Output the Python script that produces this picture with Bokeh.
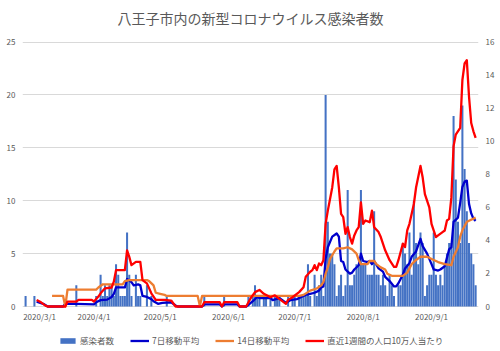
import pandas as pd
from datetime import datetime, timedelta
from bokeh.plotting import figure
from bokeh.models import Range1d, LinearAxis, FixedTicker, Legend, LegendItem, ColumnDataSource, Label
from bokeh.core.properties import value
from bokeh.embed import file_html
from bokeh.resources import INLINE

title_text = "八王子市内の新型コロナウイルス感染者数"
series_names = ["感染者数", "7日移動平均", "14日移動平均", "直近1週間の人口10万人当たり"]

first_day = "2020/3/1"
# daily new cases, 2020/3/1 .. 2020/9/21
cases_mar = [1,0,0,0,1, 0,0,0,0,0, 0,0,0,0,0, 0,0,0,0,0, 0,0,0,2,0, 0,0,0,0,0, 0]
cases_apr = [0,1,0,3,1, 2,1,2,2,1, 4,3,1,1,1, 7,3,1,0,3, 1,1,0,0,2, 0,1,0,0,0]
cases_may = [0,0,0,1,0, 0,0,0,0,0, 0,0,0,0,0, 0,0,0,0,0, 1,0,0,0,0, 0,0,0,0,1, 0]
cases_jun = [0,0,0,0,0, 0,0,0,0,1, 0,1,2,1,1, 0,1,1,0,1, 0,1,1,1,0, 0,0,1,0,1]
cases_jul = [1,0,1,1,1, 1,4,1,0,3, 1,2,3,1,20, 8,5,5,4,1, 2,3,1,2,11, 2,2,3,4,4, 11]
cases_aug = [4,4,3,3,3, 9,3,3,2,3, 2,1,3,2,1, 0,2,2,6,5, 4,7,3,10,6, 4,7,6,1,2, 3]
cases_sep = [3,7,3,2,3, 2,4,5,6,6, 18,12,8,6,19, 13,9,6,5,4, 2]

# 7-day moving average (left axis), read at vertices
avg7_days = ["3/6","3/9","3/11","3/18","3/19","3/24","4/1","4/2","4/4","4/7","4/9","4/10","4/11","4/15",
             "4/16","4/18","4/19","4/21","4/22","4/23","4/25","4/27","4/28","4/30","5/2","5/6","5/8","5/9",
             "5/20","5/21","5/28","5/29","5/30","6/5","6/6","6/9","6/10","6/12","6/14","6/15","6/20","6/21",
             "6/24","6/26","6/27","6/29","7/2","7/4","7/6","7/8","7/10","7/12","7/13","7/14","7/15","7/16",
             "7/18","7/20","7/21","7/22","7/23","7/24","7/26","7/27","7/28","7/30","7/31","8/1","8/3","8/4",
             "8/5","8/6","8/8","8/10","8/11","8/13","8/15","8/16","8/17","8/19","8/20","8/22","8/23","8/25",
             "8/26","8/27","8/28","8/30","8/31","9/1","9/2","9/4","9/5","9/7","9/8","9/9","9/10","9/11",
             "9/13","9/14","9/15","9/16","9/17","9/18","9/19","9/20","9/21"]
avg7_vals = [0.45,0.25,0,0,0.25,0.25,0.2,0.4,0.6,0.65,0.9,1.2,1.8,1.8,
             2.6,2.3,2.0,2.1,2.0,1.0,0.9,0.7,0.5,0.25,0.35,0.4,0.1,0,
             0,0.2,0.2,0,0.2,0.2,0,0,0.15,0.5,0.9,0.8,0.8,0.6,
             0.8,0.5,0.35,0.6,0.7,0.9,1.1,1.2,1.3,1.5,1.8,1.9,4.5,5.6,
             6.6,6.9,6.6,4.3,4.2,3.5,3.1,3.2,3.5,3.9,5.0,4.3,4.2,4.3,
             4.0,4.3,3.6,3.3,2.8,2.4,1.9,1.9,2.2,3.0,3.6,4.1,4.7,5.2,
             5.8,6.4,5.7,5.0,4.5,4.0,3.5,3.4,3.5,3.8,4.6,5.4,5.6,8.0,
             8.4,9.8,11.3,11.8,11.9,9.7,8.8,8.3,8.1]

# 14-day moving average (left axis)
avg14_days = ["3/13","3/18","3/19","3/20","4/2","4/3","4/5","4/14","4/15","4/17","4/25","4/26","4/28","4/29",
              "5/1","5/3","5/4","5/18","5/19","5/20","7/3","7/5","7/8","7/11","7/13","7/14","7/15","7/16",
              "7/17","7/19","7/20","7/23","7/25","7/27","7/29","7/30","7/31","8/3","8/4","8/6","8/7","8/9",
              "8/11","8/12","8/14","8/19","8/21","8/23","8/25","8/27","8/30","9/2","9/4","9/7","9/10","9/11",
              "9/13","9/14","9/15","9/17","9/18","9/21"]
avg14_vals = [1.0,1.0,0,1.6,1.6,1.8,2.1,2.1,2.4,2.5,2.5,2.4,2.0,1.3,
              1.2,1.1,1.0,1.0,0.05,1.0,1.0,1.1,1.5,1.7,2.0,2.3,3.1,3.7,
              4.5,5.2,5.5,5.5,5.6,5.4,5.0,4.4,4.0,4.0,4.3,4.3,4.0,3.7,
              3.5,3.1,2.9,2.9,3.2,4.0,4.4,4.7,4.7,4.4,4.2,4.0,3.9,4.7,
              5.6,6.6,7.2,8.0,8.1,8.4]

# weekly cases per 100k population (right axis)
per100k_days = ["3/6","3/8","3/10","3/11","3/19","3/20","3/24","3/25","3/31","4/1","4/3","4/4","4/6","4/9",
                "4/10","4/11","4/15","4/16","4/17","4/18","4/20","4/22","4/23","4/25","4/27","4/29","5/3","5/6",
                "5/8","5/20","5/21","5/28","5/29","5/30","6/5","6/6","6/9","6/11","6/13","6/15","6/17","6/20",
                "6/22","6/24","6/27","6/28","6/30","7/3","7/5","7/6","7/8","7/9","7/10","7/11","7/12","7/13",
                "7/14","7/15","7/16","7/18","7/19","7/20","7/21","7/22","7/23","7/24","7/25","7/26","7/27","7/28",
                "7/29","7/30","7/31","8/1","8/2","8/4","8/5","8/6","8/8","8/9","8/11","8/13","8/15","8/16",
                "8/17","8/19","8/20","8/21","8/22","8/24","8/25","8/27","8/28","8/29","8/31","9/1","9/3","9/4",
                "9/6","9/7","9/8","9/9","9/10","9/11","9/12","9/14","9/15","9/16","9/17","9/18","9/19","9/20","9/21"]
per100k_vals = [0.4,0.25,0.05,0,0,0.3,0.3,0.4,0.4,0.3,0.6,0.8,1.1,1.15,
                1.5,2.2,2.2,3.4,3.0,2.5,2.7,2.7,1.6,1.4,0.8,0.4,0.4,0.36,
                0,0,0.26,0.26,0,0.26,0.26,0,0,0.5,0.87,1.0,0.77,0.56,
                0.67,0.46,0.16,0.4,0.56,0.87,1.17,1.8,2.1,2.2,2.5,2.2,2.6,2.5,
                2.8,5.0,5.8,7.2,8.3,8.5,7.2,5.6,5.4,4.4,4.8,4.2,3.8,4.3,
                4.6,4.8,6.3,5.0,5.2,5.1,5.8,4.8,4.5,4.2,3.4,2.8,2.4,2.4,
                2.8,3.8,3.6,4.6,5.0,6.2,7.2,8.5,7.8,6.8,6.0,5.0,4.2,4.3,
                4.5,4.6,5.2,5.3,6.6,9.7,10.4,10.8,13.7,14.7,14.9,12.7,11.1,10.6,10.2]

x_tick_labels = ["2020/3/1", "2020/4/1", "2020/5/1", "2020/6/1", "2020/7/1", "2020/8/1", "2020/9/1"]
left_ticks = [0, 5, 10, 15, 20, 25]
right_ticks = [0, 2, 4, 6, 8, 10, 12, 14, 16]

# ---------------------------------------------------------------
def parse(s):
    return datetime.strptime(s, "%Y/%m/%d")

def md(lst):
    return [parse("2020/" + s) for s in lst]

cases = cases_mar + cases_apr + cases_may + cases_jun + cases_jul + cases_aug + cases_sep
d0 = parse(first_day)
dates = [d0 + timedelta(days=i) for i in range(len(cases))]

FONT = "Noto Sans CJK JP"
GRAY = "#595959"

# layout: the frame spans the whole canvas height so title and legend can sit inside it
CANVAS_H = 351
TOP_PX, ZERO_PX = 41.5, 306.0          # pixel rows of the 25 gridline and of the zero line
px_per_unit = (ZERO_PX - TOP_PX) / left_ticks[-1]
y_lo = -(CANVAS_H - ZERO_PX) / px_per_unit
y_hi = left_ticks[-1] + TOP_PX / px_per_unit
r_scale = right_ticks[-1] / left_ticks[-1]
tick_label_y = -10.0 / px_per_unit     # 10 px below the zero line

x_start = d0 - timedelta(days=1.4)
x_end = d0 + timedelta(days=205.3)

p = figure(frame_width=456, frame_height=CANVAS_H, x_axis_type="datetime", output_backend="svg",
           toolbar_location=None, x_range=Range1d(x_start, x_end), y_range=Range1d(y_lo, y_hi),
           min_border_left=22, min_border_right=22, min_border_top=0, min_border_bottom=0)
p.title.visible = False
p.extra_y_ranges = {"r": Range1d(y_lo * r_scale, y_hi * r_scale)}
p.outline_line_color = None
p.background_fill_color = "white"
p.border_fill_color = "white"

src = ColumnDataSource(dict(x=dates, top=cases))
r_bar = p.vbar(x="x", top="top", width=0.92 * 86400000, source=src, fill_color="#4472C4", line_color=None)
r7 = p.line(md(avg7_days), avg7_vals, line_color="#0000CC", line_width=2.3, line_join="round")
r14 = p.line(md(avg14_days), avg14_vals, line_color="#ED7D31", line_width=2.3, line_join="round")
rr = p.line(md(per100k_days), per100k_vals, line_color="#FF0000", line_width=2.3, line_join="round", y_range_name="r")

# date tick labels, placed on the date scale just under the zero line
tick_dates = [parse(s) for s in x_tick_labels]
first_shift = [14] + [0] * (len(x_tick_labels) - 1)   # keep the first label inside the frame
tick_src = ColumnDataSource(dict(x=tick_dates, y=[tick_label_y] * len(tick_dates),
                                 text=x_tick_labels, dx=first_shift))
p.text(x="x", y="y", text="text", x_offset="dx", source=tick_src, text_align="center",
       text_baseline="middle", text_font=value(FONT), text_font_size=value("8px"), text_color=GRAY)

# title (screen units measured from the frame's bottom-left)
title_lbl = Label(x=228, y=CANVAS_H - 17, x_units="screen", y_units="screen", text=title_text,
                  text_align="center", text_baseline="middle", text_font=FONT,
                  text_font_size="14px", text_color=GRAY)
p.add_layout(title_lbl)

def style_axis(ax, standoff):
    ax.major_tick_line_color = None
    ax.minor_tick_line_color = None
    ax.major_tick_out = 0
    ax.major_tick_in = 0
    ax.minor_tick_out = 0
    ax.minor_tick_in = 0
    ax.major_label_standoff = standoff
    ax.major_label_text_font = FONT
    ax.major_label_text_font_size = "8px"
    ax.major_label_text_color = GRAY

# axes
p.xaxis.visible = False

ya = p.yaxis[0]
ya.ticker = FixedTicker(ticks=left_ticks)
ya.axis_line_color = None
style_axis(ya, 7)

ra = LinearAxis(y_range_name="r", ticker=FixedTicker(ticks=right_ticks))
ra.axis_line_color = None
style_axis(ra, 7)
p.add_layout(ra, "right")

p.xgrid.visible = False
p.ygrid.ticker = FixedTicker(ticks=left_ticks)
p.ygrid.grid_line_color = "#D9D9D9"
p.ygrid.grid_line_width = 1

legend = Legend(items=[LegendItem(label=series_names[0], renderers=[r_bar]),
                       LegendItem(label=series_names[1], renderers=[r7]),
                       LegendItem(label=series_names[2], renderers=[r14]),
                       LegendItem(label=series_names[3], renderers=[rr])],
                orientation="horizontal", location=(36, 5),
                glyph_width=19, glyph_height=7, label_height=10, spacing=16, label_standoff=3,
                padding=0, margin=0, border_line_color=None, background_fill_alpha=0,
                label_text_font=FONT, label_text_font_size="8.5px", label_text_color=GRAY)
p.add_layout(legend, "center")

open("out.html", "w").write(file_html(p, INLINE))
